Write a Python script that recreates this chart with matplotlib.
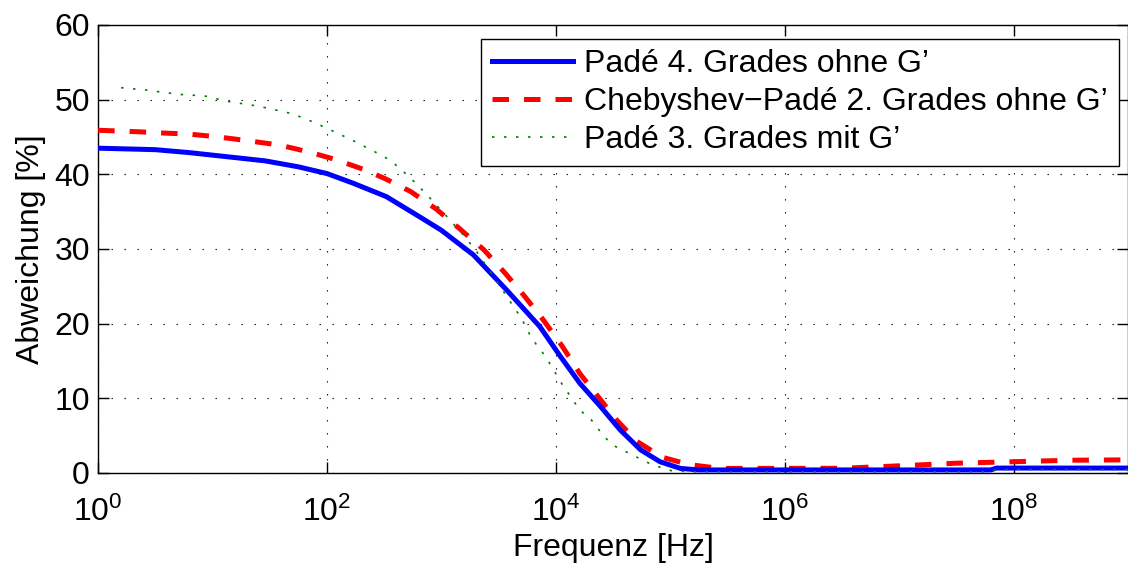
import numpy as np
import matplotlib.pyplot as plt
from matplotlib.ticker import NullLocator, MultipleLocator

plt.rcParams['font.family'] = ['Liberation Sans', 'DejaVu Sans']
plt.rcParams['mathtext.fontset'] = 'custom'
plt.rcParams['mathtext.rm'] = 'Liberation Sans'
plt.rcParams['mathtext.it'] = 'Liberation Sans'

# Abweichung [%] über log10(Frequenz / Hz)
logf_pade4 = [0, 0.5, 0.8, 1.16, 1.46, 1.75, 2.0, 2.23, 2.52, 2.81, 3.0, 3.11,
              3.28, 3.57, 3.86, 4.04, 4.21, 4.39, 4.56, 4.74, 4.91, 5.09, 5.25,
              7.8, 7.85, 9]
dev_pade4 = [43.5, 43.3, 42.9, 42.3, 41.8, 41.0, 40.1, 38.8, 37.0, 34.3, 32.5,
             31.2, 29.2, 24.5, 19.6, 15.6, 12.0, 8.9, 5.8, 3.1, 1.5, 0.6, 0.4,
             0.4, 0.65, 0.65]

logf_cheb = [0, 0.35, 0.61, 0.79, 1.05, 1.31, 1.59, 1.84, 2.07, 2.33, 2.51,
             2.73, 2.95, 3.16, 3.37, 3.56, 3.73, 3.89, 4.05, 4.21, 4.36, 4.53,
             4.71, 4.93, 5.17, 5.44, 6.5, 7.0, 7.5, 8.0, 8.5, 9]
dev_cheb = [45.9, 45.7, 45.5, 45.4, 45.0, 44.5, 43.9, 43.0, 42.0, 40.6, 39.4,
            37.7, 35.4, 32.7, 29.9, 26.7, 23.6, 20.5, 17.1, 13.3, 10.4, 7.1,
            4.2, 2.1, 1.1, 0.6, 0.62, 0.95, 1.3, 1.5, 1.7, 1.75]

logf_pade3 = [0.2, 0.41, 0.71, 0.93, 1.12, 1.41, 1.70, 1.88, 2.05, 2.23, 2.42,
              2.54, 2.63, 2.77, 2.92, 3.05, 3.19, 3.31, 3.43, 3.59, 3.70, 3.79,
              3.91, 4.05, 4.21, 4.30, 4.42, 4.50, 4.67, 4.84, 5.01, 5.2, 7.8,
              7.85, 9]
dev_pade3 = [51.6, 51.3, 50.7, 50.5, 49.8, 49.1, 48.1, 47.0, 45.8, 44.5, 43.0,
             42.0, 40.9, 38.9, 36.5, 34.3, 31.9, 29.6, 26.9, 23.2, 20.7, 18.0,
             15.6, 12.0, 8.4, 7.3, 4.9, 3.7, 2.4, 1.1, 0.3, 0.15, 0.15, 0.45,
             0.45]

labels = ["Padé 4. Grades ohne G’",
          "Chebyshev−Padé 2. Grades ohne G’",
          "Padé 3. Grades mit G’"]

fs = 23

fig = plt.figure(figsize=(11.28, 5.63), dpi=100)
ax = fig.add_axes([0.087, 0.16, 0.913, 0.7956])

ax.semilogx(10 ** np.array(logf_pade4), dev_pade4, color='blue', lw=3.6,
            label=labels[0], zorder=4)
ax.semilogx(10 ** np.array(logf_cheb), dev_cheb, color='red', lw=3.6,
            ls=(0, (3.3, 3.0)), label=labels[1], zorder=3)
ax.semilogx(10 ** np.array(logf_pade3), dev_pade3, color=(0, 0.5, 0), lw=1.2,
            ls=(0, (1.5, 5.7)), label=labels[2], zorder=5)

ax.set_xlim(1, 1e9)
ax.set_ylim(0, 60)
ax.set_xticks([1, 1e2, 1e4, 1e6, 1e8])
ax.xaxis.set_minor_locator(NullLocator())
ax.yaxis.set_major_locator(MultipleLocator(10))

ax.grid(True, which='major', color='black', ls=(0, (1.2, 10.5)), lw=0.8)
ax.tick_params(direction='in', top=True, right=True, labelsize=fs,
               length=8, width=1)
ax.tick_params(axis='x', pad=17)
ax.tick_params(axis='y', pad=6)
for s in ax.spines.values():
    s.set_linewidth(1.0)

ax.set_xlabel('Frequenz [Hz]', fontsize=fs, labelpad=4)
ax.set_ylabel('Abweichung [%]', fontsize=fs, labelpad=6)

leg = ax.legend(loc='upper right', bbox_to_anchor=(0.991, 0.969), fontsize=fs,
                handlelength=2.55, handletextpad=0.35, borderpad=0.33,
                labelspacing=0.25, fancybox=False, framealpha=1,
                edgecolor='black', borderaxespad=0)
leg.get_frame().set_linewidth(1.0)

fig.savefig('out.png', dpi=100)
